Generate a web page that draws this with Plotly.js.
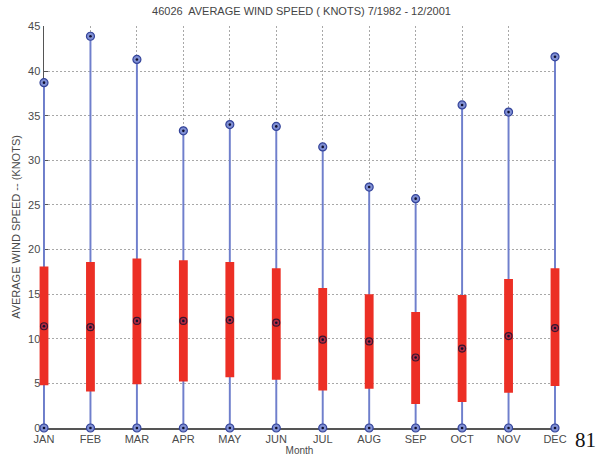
<!DOCTYPE html>
<html>
<head>
<meta charset="utf-8">
<script src="https://cdn.plot.ly/plotly-3.0.1.min.js"></script>
<style>html,body{margin:0;padding:0;background:#fff;}#chart{width:603px;height:460px;}</style>
</head>
<body>
<div id="chart"></div>
<script>
const months = ["JAN","FEB","MAR","APR","MAY","JUN","JUL","AUG","SEP","OCT","NOV","DEC"];
const monthIndex = [1,2,3,4,5,6,7,8,9,10,11,12];
const maxSpeed = [38.7, 43.9, 41.3, 33.3, 34.0, 33.8, 31.5, 27.0, 25.7, 36.2, 35.4, 41.6];
const minSpeed = [0,0,0,0,0,0,0,0,0,0,0,0];
const meanSpeed = [11.4, 11.3, 12.0, 12.0, 12.1, 11.8, 9.9, 9.7, 7.9, 8.9, 10.3, 11.2];
const upperSpeed = [18.1, 18.6, 19.0, 18.8, 18.6, 17.9, 15.7, 15.0, 13.0, 14.9, 16.7, 17.9];
const lowerSpeed = [4.8, 4.1, 4.9, 5.2, 5.7, 5.4, 4.2, 4.4, 2.7, 2.9, 3.95, 4.7];
const yTicks = [0,5,10,15,20,25,30,35,40,45];

// geometry: outer plot area a little wider than the framed axes so edge bars are not clipped
const W = 603, H = 460, mL = 34, mR = 38, pad = 10;
const plotW = W - mL - mR;
const d0 = pad / plotW, d1 = (plotW - pad) / plotW;
const pxPerUnit = (plotW - 2 * pad) / (12 - 1);
const dataRange = [1 - pad / pxPerUnit, 12 + pad / pxPerUnit];

const blue = '#6f7fcc';
const common = {xaxis: 'x2', yaxis: 'y2', hoverinfo: 'skip', cliponaxis: false};
const traces = [
  Object.assign({type: 'bar', x: monthIndex, base: minSpeed, y: maxSpeed.map((v,i)=>v-minSpeed[i]), width: 0.042,
   marker: {color: blue, line: {width: 0}}}, common),
  Object.assign({type: 'bar', x: monthIndex, base: lowerSpeed, y: upperSpeed.map((v,i)=>v-lowerSpeed[i]), width: 0.19,
   marker: {color: '#ec2f25', line: {width: 0}}}, common),
  Object.assign({type: 'scatter', x: monthIndex, y: maxSpeed, mode: 'markers',
   marker: {symbol: 'circle', size: 8, color: '#8090d4', line: {color: '#34449a', width: 1.2}}}, common),
  Object.assign({type: 'scatter', x: monthIndex, y: minSpeed, mode: 'markers',
   marker: {symbol: 'circle', size: 8, color: '#8090d4', line: {color: '#34449a', width: 1.2}}}, common),
  Object.assign({type: 'scatter', x: monthIndex, y: meanSpeed, mode: 'markers',
   marker: {symbol: 'circle', size: 7, color: '#b8283e', line: {color: '#3a1630', width: 1.2}}}, common),
  Object.assign({type: 'scatter', x: monthIndex.concat(monthIndex, monthIndex), y: maxSpeed.concat(minSpeed, meanSpeed), mode: 'markers',
   marker: {symbol: 'circle', size: 2.6, color: '#101030'}}, common),
  // invisible trace to register the framed axes
  {type: 'scatter', x: [1, 12], y: [0, 45], mode: 'markers', marker: {opacity: 0}, hoverinfo: 'skip', xaxis: 'x', yaxis: 'y'}
];

const layout = {
  width: W, height: H,
  margin: {l: mL, r: mR, t: 26, b: 32, pad: 0},
  paper_bgcolor: '#ffffff', plot_bgcolor: 'rgba(0,0,0,0)',
  showlegend: false, barmode: 'overlay',
  font: {family: 'Liberation Sans, Arial, sans-serif', size: 11, color: '#4a4a4a'},
  title: {text: '46026  AVERAGE WIND SPEED ( KNOTS) 7/1982 - 12/2001', x: 0.5, xanchor: 'center', y: 0.975, yanchor: 'middle',
          font: {size: 11, color: '#444', family: 'Liberation Sans, Arial, sans-serif'}},
  xaxis: {
    domain: [d0, d1], anchor: 'y',
    range: [1, 12], tickmode: 'array', tickvals: monthIndex, ticktext: months,
    showgrid: true, gridcolor: '#a8a8a8', griddash: '2px,2px', gridwidth: 1,
    showline: true, linecolor: '#555', linewidth: 1.5, mirror: false, layer: 'below traces',
    ticks: '', zeroline: false, tickfont: {size: 11, color: '#4a4a4a'},
    title: {text: 'Month', font: {size: 10, color: '#4a4a4a'}, standoff: 3}
  },
  yaxis: {
    domain: [0, 1], anchor: 'x',
    range: [0, 45.05], tickmode: 'array', tickvals: yTicks,
    showgrid: true, gridcolor: '#a8a8a8', griddash: '2px,2px', gridwidth: 1,
    showline: true, linecolor: '#555', linewidth: 1.5, layer: 'below traces',
    ticks: 'inside', ticklen: 4, tickcolor: '#555', zeroline: false,
    tickfont: {size: 11, color: '#4a4a4a'},
    title: {text: 'AVERAGE WIND SPEED -- (KNOTS)', font: {size: 11, color: '#4a4a4a'}, standoff: 5}
  },
  xaxis2: {domain: [0, 1], anchor: 'y2', range: dataRange, visible: false, showgrid: false, zeroline: false, fixedrange: true},
  yaxis2: {domain: [0, 1], anchor: 'x2', range: [0, 45.05], visible: false, showgrid: false, zeroline: false, fixedrange: true},
  annotations: [
    {text: '81', xref: 'paper', yref: 'paper', x: 1.038, y: -0.03, xanchor: 'center', yanchor: 'middle', showarrow: false,
     font: {family: 'Liberation Serif, Times New Roman, serif', size: 21, color: '#111'}}
  ]
};

Plotly.newPlot('chart', traces, layout, {displayModeBar: false, staticPlot: true});
</script>
</body>
</html>
